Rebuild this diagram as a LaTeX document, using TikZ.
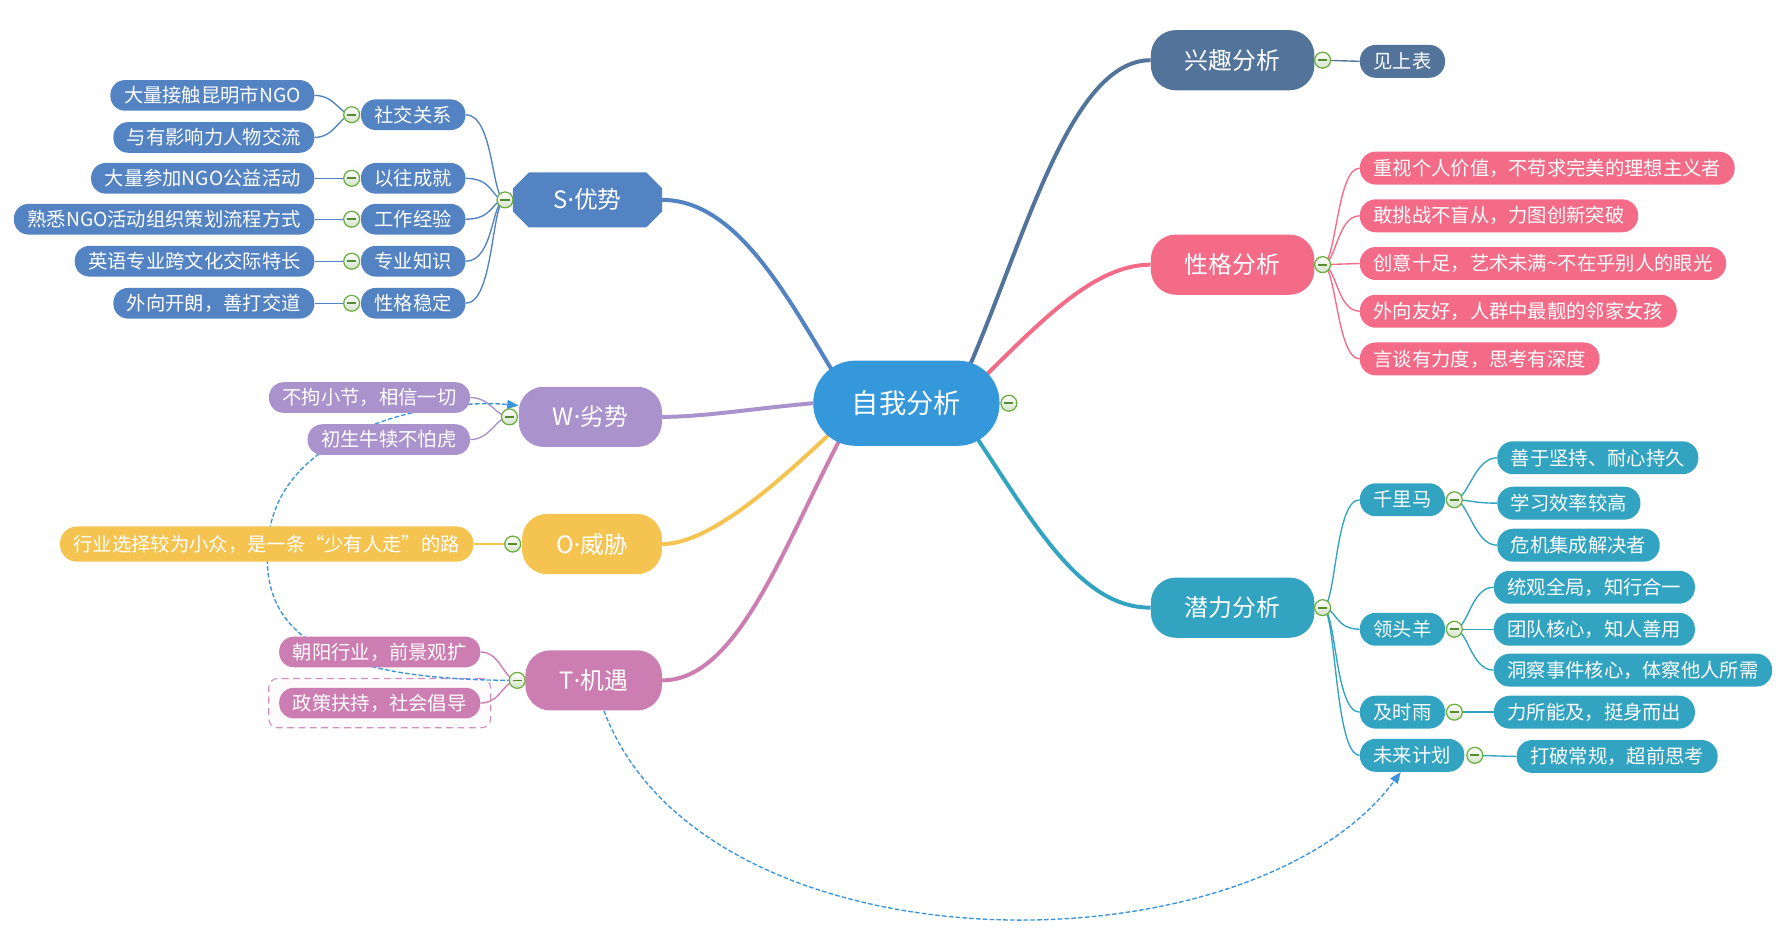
\documentclass[tikz,border=0pt]{standalone}
\usepackage{fontspec}
\setmainfont{Noto Sans CJK SC}
\newfontfamily\latinfont{Noto Sans}
\usetikzlibrary{arrows.meta,backgrounds,calc,fit}

\definecolor{cMe}{HTML}{3598DB}
\definecolor{cS}{HTML}{5383C3}
\definecolor{cW}{HTML}{AA92CD}
\definecolor{cO}{HTML}{F4C350}
\definecolor{cT}{HTML}{CC7DB1}
\definecolor{cXq}{HTML}{52739A}
\definecolor{cXg}{HTML}{F46B87}
\definecolor{cQl}{HTML}{32A4C2}
\definecolor{cRel}{HTML}{3B95DE}
\definecolor{cKnob}{HTML}{6AAF3D}
\definecolor{cKnobFill}{HTML}{D3E2C9}

\newcommand{\mdot}{{\latinfont ·}}

\begin{document}
\begin{tikzpicture}[x=1pt,y=-1pt,
  rootbox/.style={fill=cMe, text=white, rounded corners=37pt, minimum height=75pt, inner xsep=34pt, font=\fontsize{24}{28}\selectfont},
  topicbox/.style={fill=#1, text=white, rounded corners=22pt, minimum height=53pt, inner xsep=30pt, font=\fontsize{21}{25}\selectfont},
  leafbox/.style={fill=#1, text=white, rounded corners=13pt, minimum height=27pt, inner xsep=12pt, inner ysep=2pt, font=\fontsize{17}{20}\selectfont},
  rightleaf/.style={leafbox=#1, rounded corners=14pt, minimum height=29pt},
  knob/.style={circle, minimum size=14pt, inner sep=0pt, draw=cKnob, line width=1.1pt, top color=white, bottom color=cKnobFill,
    path picture={\draw[cKnob!80!black, line width=1.5pt] ($(path picture bounding box.center)+(-4,0)$) -- ($(path picture bounding box.center)+(4,0)$);}},
  limb/.style={draw=#1, line width=3.5pt},
  twig/.style={draw=#1, line width=1.2pt},
  relline/.style={draw=cRel, line width=1.2pt, dash pattern=on 4pt off 2pt, -{Triangle[length=10pt,width=8pt]}}
]
\useasboundingbox (0,0) rectangle (1568,837);

% centre
\node[rootbox] (me) at (798,355) {自我分析};
\node[knob] (m0) at ($(me.east)+(8,0)$) {};

% S (its cut-corner fill is drawn on the background layer)
\node[topicbox=cS, fill=none, sharp corners, minimum width=131pt, minimum height=48pt, inner xsep=0pt, anchor=east] (s) at (583,176) {S\mdot 优势};
\node[knob] (ms) at ($(s.west)+(-7,0)$) {};
\node[leafbox=cS, anchor=east] (s1) at (410,101) {社交关系};
\node[leafbox=cS, anchor=east] (s2) at (410,157) {以往成就};
\node[leafbox=cS, anchor=east] (s3) at (410,193) {工作经验};
\node[leafbox=cS, anchor=east] (s4) at (410,230) {专业知识};
\node[leafbox=cS, anchor=east] (s5) at (410,267) {性格稳定};
\node[knob] (ms1) at ($(s1.west)+(-8,0)$) {};
\node[knob] (ms2) at ($(s2.west)+(-8,0)$) {};
\node[knob] (ms3) at ($(s3.west)+(-8,0)$) {};
\node[knob] (ms4) at ($(s4.west)+(-8,0)$) {};
\node[knob] (ms5) at ($(s5.west)+(-8,0)$) {};
\node[leafbox=cS, anchor=east] (s11) at (277,84) {大量接触昆明市NGO};
\node[leafbox=cS, anchor=east] (s12) at (277,121) {与有影响力人物交流};
\node[leafbox=cS, anchor=east] (s21) at (277,157) {大量参加NGO公益活动};
\node[leafbox=cS, anchor=east] (s31) at (277,193) {熟悉NGO活动组织策划流程方式};
\node[leafbox=cS, anchor=east] (s41) at (277,230) {英语专业跨文化交际特长};
\node[leafbox=cS, anchor=east] (s51) at (277,267) {外向开朗，善打交道};

% W
\node[topicbox=cW, anchor=east] (w) at (583,367) {W\mdot 劣势};
\node[knob] (mw) at ($(w.west)+(-8,0)$) {};
\node[leafbox=cW, anchor=east] (w1) at (414,350) {不拘小节，相信一切};
\node[leafbox=cW, anchor=east] (w2) at (414,387) {初生牛犊不怕虎};

% O
\node[topicbox=cO, anchor=east] (o) at (583,479) {O\mdot 威胁};
\node[knob] (mo) at ($(o.west)+(-8,0)$) {};
\node[leafbox=cO, anchor=east, minimum height=31pt, rounded corners=15pt] (o1) at (417,479) {行业选择较为小众，是一条“少有人走”的路};

% T
\node[topicbox=cT, anchor=east] (t) at (583,599) {T\mdot 机遇};
\node[knob] (mt) at ($(t.west)+(-7,0)$) {};
\node[leafbox=cT, anchor=east] (t1) at (423,574) {朝阳行业，前景观扩};
\node[leafbox=cT, anchor=east] (t2) at (423,619) {政策扶持，社会倡导};

% interest
\node[topicbox=cXq, anchor=west] (xq) at (1013,53) {兴趣分析};
\node[knob] (mxq) at ($(xq.east)+(7,0)$) {};
\node[rightleaf=cXq, anchor=west] (xq1) at (1197,54) {见上表};

% character
\node[topicbox=cXg, anchor=west] (xg) at (1013,233) {性格分析};
\node[knob] (mxg) at ($(xg.east)+(7,0)$) {};
\node[rightleaf=cXg, anchor=west] (xg1) at (1197,148) {重视个人价值，不苟求完美的理想主义者};
\node[rightleaf=cXg, anchor=west] (xg2) at (1197,190) {敢挑战不盲从，力图创新突破};
\node[rightleaf=cXg, anchor=west] (xg3) at (1197,232) {创意十足，艺术未满\char`~不在乎别人的眼光};
\node[rightleaf=cXg, anchor=west] (xg4) at (1197,274) {外向友好，人群中最靓的邻家女孩};
\node[rightleaf=cXg, anchor=west] (xg5) at (1197,316) {言谈有力度，思考有深度};

% potential
\node[topicbox=cQl, anchor=west] (ql) at (1013,535) {潜力分析};
\node[knob] (mql) at ($(ql.east)+(7,0)$) {};
\node[rightleaf=cQl, anchor=west] (q1) at (1197,440) {千里马};
\node[rightleaf=cQl, anchor=west] (q2) at (1197,554) {领头羊};
\node[rightleaf=cQl, anchor=west] (q3) at (1197,627) {及时雨};
\node[rightleaf=cQl, anchor=west] (q4) at (1197,665) {未来计划};
\node[knob] (mq1) at ($(q1.east)+(8,0)$) {};
\node[knob] (mq2) at ($(q2.east)+(8,0)$) {};
\node[knob] (mq3) at ($(q3.east)+(8,0)$) {};
\node[knob] (mq4) at ($(q4.east)+(9,0)$) {};
\node[rightleaf=cQl, anchor=west] (q11) at (1318,403) {善于坚持、耐心持久};
\node[rightleaf=cQl, anchor=west] (q12) at (1318,443) {学习效率较高};
\node[rightleaf=cQl, anchor=west] (q13) at (1318,480) {危机集成解决者};
\node[rightleaf=cQl, anchor=west] (q21) at (1315,517) {统观全局，知行合一};
\node[rightleaf=cQl, anchor=west] (q22) at (1315,554) {团队核心，知人善用};
\node[rightleaf=cQl, anchor=west] (q23) at (1315,590) {洞察事件核心，体察他人所需};
\node[rightleaf=cQl, anchor=west] (q31) at (1315,627) {力所能及，挺身而出};
\node[rightleaf=cQl, anchor=west] (q41) at (1335,666) {打破常规，超前思考};

\begin{pgfonlayer}{background}
% cut-corner box of S
\fill[cS] ($(s.north west)+(14,0)$) -- ($(s.north east)+(-14,0)$) -- ($(s.north east)+(0,14)$) -- ($(s.south east)+(0,-14)$)
  -- ($(s.south east)+(-14,0)$) -- ($(s.south west)+(14,0)$) -- ($(s.south west)+(0,-14)$) -- ($(s.north west)+(0,14)$) -- cycle;
% boundary round t2
\node[fit=(t2), inner xsep=9pt, inner ysep=8pt, draw=cT!85, fill=cT!4, line width=1pt, dash pattern=on 6pt off 4pt, rounded corners=8pt] (t2box) {};

% main branches
\draw[limb=cS] ($(me)+(-60,-20)$) .. controls (695,265) and (650,176) .. (s.east);
\draw[limb=cW] (me.west) .. controls (660,360) and (620,367) .. (w.east);
\draw[limb=cO] ($(me)+(-60,20)$) .. controls (700,410) and (630,479) .. (o.east);
\draw[limb=cT] ($(me)+(-55,25)$) .. controls (690,480) and (650,599) .. (t.east);
\draw[limb=cXq] ($(me)+(50,-20)$) .. controls (900,220) and (940,53) .. (xq.west);
\draw[limb=cXg] ($(me)+(55,-10)$) .. controls (910,290) and (960,233) .. (xg.west);
\draw[limb=cQl] ($(me)+(55,20)$) .. controls (910,460) and (950,535) .. (ql.west);

% S twigs
\draw[twig=cS] (ms.center) .. controls +(-12,0) and +(25,0) .. (s1.east);
\draw[twig=cS] (ms.center) .. controls +(-12,0) and +(25,0) .. (s2.east);
\draw[twig=cS] (ms.center) .. controls +(-12,0) and +(25,0) .. (s3.east);
\draw[twig=cS] (ms.center) .. controls +(-12,0) and +(25,0) .. (s4.east);
\draw[twig=cS] (ms.center) .. controls +(-12,0) and +(25,0) .. (s5.east);
\draw[twig=cS] (ms1.center) .. controls +(-10,0) and +(18,0) .. (s11.east);
\draw[twig=cS] (ms1.center) .. controls +(-10,0) and +(18,0) .. (s12.east);
\draw[twig=cS] (ms2.center) -- (s21.east);
\draw[twig=cS] (ms3.center) -- (s31.east);
\draw[twig=cS] (ms4.center) -- (s41.east);
\draw[twig=cS] (ms5.center) -- (s51.east);

% W, O, T twigs
\draw[twig=cW] (mw.center) .. controls +(-12,0) and +(18,0) .. (w1.east);
\draw[twig=cW] (mw.center) .. controls +(-12,0) and +(18,0) .. (w2.east);
\draw[twig=cO] (mo.center) -- (o1.east);
\draw[twig=cT] (mt.center) .. controls +(-12,0) and +(18,0) .. (t1.east);
\draw[twig=cT] (mt.center) .. controls +(-12,0) and +(18,0) .. (t2.east);

% right twigs
\draw[twig=cXq] (mxq.center) -- (xq1.west);
\draw[twig=cXg] (mxg.center) .. controls +(12,0) and +(-20,0) .. (xg1.west);
\draw[twig=cXg] (mxg.center) .. controls +(12,0) and +(-20,0) .. (xg2.west);
\draw[twig=cXg] (mxg.center) -- (xg3.west);
\draw[twig=cXg] (mxg.center) .. controls +(12,0) and +(-20,0) .. (xg4.west);
\draw[twig=cXg] (mxg.center) .. controls +(12,0) and +(-20,0) .. (xg5.west);
\draw[twig=cQl] (mql.center) .. controls +(12,0) and +(-22,0) .. (q1.west);
\draw[twig=cQl] (mql.center) .. controls +(12,0) and +(-22,0) .. (q2.west);
\draw[twig=cQl] (mql.center) .. controls +(12,0) and +(-22,0) .. (q3.west);
\draw[twig=cQl] (mql.center) .. controls +(12,0) and +(-22,0) .. (q4.west);
\draw[twig=cQl] (mq1.center) .. controls +(12,0) and +(-20,0) .. (q11.west);
\draw[twig=cQl] (mq1.center) .. controls +(12,0) and +(-20,0) .. (q12.west);
\draw[twig=cQl] (mq1.center) .. controls +(12,0) and +(-20,0) .. (q13.west);
\draw[twig=cQl] (mq2.center) .. controls +(12,0) and +(-20,0) .. (q21.west);
\draw[twig=cQl] (mq2.center) -- (q22.west);
\draw[twig=cQl] (mq2.center) .. controls +(12,0) and +(-20,0) .. (q23.west);
\draw[twig=cQl] (mq3.center) -- (q31.west);
\draw[twig=cQl] (mq4.center) -- (q41.west);

% relations
\draw[relline] (t.west) .. controls (300,600) and (228,565) .. (236,480) .. controls (240,380) and (380,350) .. ($(w.west)+(0,-10)$);
\draw[relline] ([xshift=9pt]t.south) .. controls (620,860) and (1100,860) .. ([xshift=-10pt]q4.south);
\end{pgfonlayer}
\end{tikzpicture}
\end{document}
